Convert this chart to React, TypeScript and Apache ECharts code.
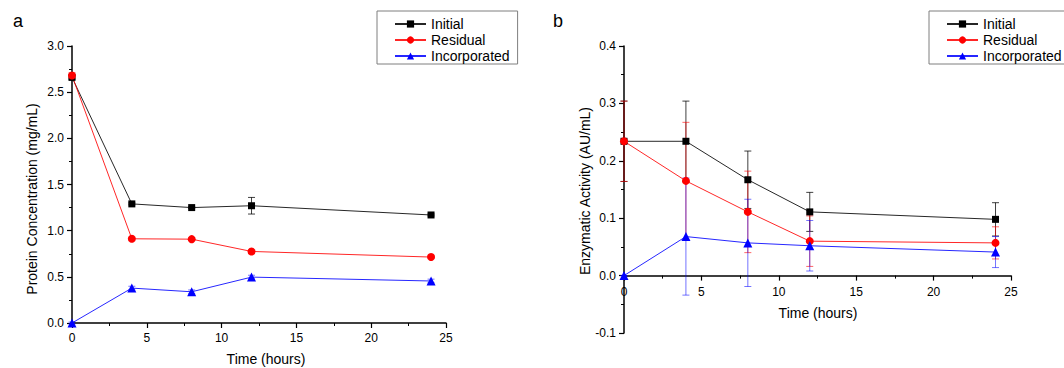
import React, { useEffect, useRef } from 'react';
import * as echarts from 'echarts';

const hours = [0, 4, 8, 12, 24];
const seriesNames = ['Initial', 'Residual', 'Incorporated'];

// Panel a: protein concentration (mg/mL)
const protInitial = [2.66, 1.29, 1.25, 1.27, 1.17];
const protInitialErr = [0.02, 0.01, 0.01, 0.09, 0.01];
const protResidual = [2.68, 0.912, 0.908, 0.775, 0.714];
const protResidualErr = [0.03, 0.01, 0.01, 0.01, 0.01];
const protIncorp = [0, 0.378, 0.338, 0.497, 0.455];
const protIncorpErr = [0.01, 0.02, 0.02, 0.02, 0.02];

// Panel b: enzymatic activity (AU/mL)
const actInitial = [0.234, 0.234, 0.167, 0.111, 0.098];
const actInitialErr = [0.07, 0.07, 0.05, 0.034, 0.029];
const actResidual = [0.234, 0.165, 0.111, 0.06, 0.057];
const actResidualErr = [0.07, 0.102, 0.071, 0.044, 0.028];
const actIncorp = [0, 0.068, 0.057, 0.052, 0.041];
const actIncorpErr = [0, 0.102, 0.076, 0.044, 0.027];

const FONT = '"Liberation Sans", Arial, sans-serif';
const colors = ['#000000', '#ff0000', '#0000ff'];
const errColors = ['rgba(0,0,0,0.75)', 'rgba(255,0,0,0.6)', 'rgba(0,0,255,0.55)'];
const symbols = ['rect', 'circle', 'triangle'];
const symbolSizes = [7, 8, 9];

// Panel b geometry: y range [-0.1, 0.4] over 287 px, x axis drawn at y = 0
const B_TOP = 46;
const B_HEIGHT = 287;
const B_ZERO_OFFSET = -(B_HEIGHT * 0.1) / 0.5;

function lineSeries(idx: number, axis: number, vals: number[]) {
  return {
    type: 'line',
    name: seriesNames[idx],
    xAxisIndex: axis,
    yAxisIndex: axis,
    data: hours.map((h, i) => [h, vals[i]]),
    symbol: symbols[idx],
    symbolSize: symbolSizes[idx],
    showAllSymbol: true,
    itemStyle: { color: colors[idx] },
    lineStyle: { color: colors[idx], width: 1, opacity: 0.85 },
    z: 3,
  };
}

function errSeries(idx: number, axis: number, vals: number[], errs: number[]) {
  const color = errColors[idx];
  return {
    type: 'custom',
    name: 'err-' + seriesNames[idx] + '-' + axis,
    xAxisIndex: axis,
    yAxisIndex: axis,
    silent: true,
    z: 2,
    data: hours.map((h, i) => [h, vals[i] - errs[i], vals[i] + errs[i]]),
    encode: { x: 0, y: [1, 2] },
    renderItem: (params: any, api: any) => {
      const lo = api.coord([api.value(0), api.value(1)]);
      const hi = api.coord([api.value(0), api.value(2)]);
      const w = 3.5;
      const style = { stroke: color, lineWidth: 1, fill: 'none' };
      return {
        type: 'group',
        children: [
          { type: 'line', shape: { x1: lo[0], y1: lo[1], x2: hi[0], y2: hi[1] }, style },
          { type: 'line', shape: { x1: lo[0] - w, y1: lo[1], x2: lo[0] + w, y2: lo[1] }, style },
          { type: 'line', shape: { x1: hi[0] - w, y1: hi[1], x2: hi[0] + w, y2: hi[1] }, style },
        ],
      };
    },
  };
}

const axisLine = { show: true, onZero: false, lineStyle: { color: '#000', width: 1.5 } };
const axisTick = { show: true, inside: false, length: 5, lineStyle: { color: '#000', width: 1.2 } };
const minorTick = { show: true, splitNumber: 2, length: 3, lineStyle: { color: '#000', width: 1 } };
const labelStyle = { color: '#000', fontSize: 12, fontFamily: FONT };

function legend(left: number, padRight: number) {
  return {
    data: seriesNames,
    orient: 'vertical',
    left,
    top: 11,
    itemWidth: 31,
    itemHeight: 9,
    itemGap: 2,
    padding: [6, padRight, 1, 17],
    borderColor: '#7f7f7f',
    borderWidth: 1,
    backgroundColor: '#fff',
    textStyle: { color: '#000', fontSize: 14, fontFamily: FONT },
    selectedMode: false,
  };
}

export default function App() {
  const ref = useRef<HTMLDivElement>(null);
  useEffect(() => {
    if (!ref.current) return;
    const chart = echarts.init(ref.current, null, { renderer: 'svg' });
    const option: any = {
      animation: false,
      backgroundColor: '#fff',
      textStyle: { fontFamily: FONT },
      legend: [legend(377, 8), legend(929, 4)],
      grid: [
        { left: 72, top: 46, width: 374, height: 277 },
        { left: 624, top: B_TOP, width: 387, height: B_HEIGHT },
      ],
      xAxis: [
        {
          type: 'value', gridIndex: 0, min: 0, max: 25, interval: 5,
          axisLine, axisTick, minorTick, splitLine: { show: false },
          axisLabel: { ...labelStyle, margin: 9 },
        },
        {
          type: 'value', gridIndex: 1, min: 0, max: 25, interval: 5,
          position: 'bottom', offset: B_ZERO_OFFSET,
          axisLine, axisTick, minorTick, splitLine: { show: false },
          axisLabel: { ...labelStyle, margin: 10 },
        },
      ],
      yAxis: [
        {
          type: 'value', gridIndex: 0, min: 0, max: 3, interval: 0.5,
          axisLine, axisTick, minorTick, splitLine: { show: false },
          axisLabel: { ...labelStyle, margin: 8, formatter: (v: number) => v.toFixed(1) },
        },
        {
          type: 'value', gridIndex: 1, min: -0.1, max: 0.4, interval: 0.1,
          axisLine, axisTick, minorTick, splitLine: { show: false },
          axisLabel: { ...labelStyle, margin: 8, formatter: (v: number) => v.toFixed(1) },
        },
      ],
      graphic: [
        { type: 'text', x: 18, y: 21, style: { text: 'a', font: `18px ${FONT}`, fill: '#000', align: 'center', verticalAlign: 'middle' } },
        { type: 'text', x: 558, y: 21, style: { text: 'b', font: `18px ${FONT}`, fill: '#000', align: 'center', verticalAlign: 'middle' } },
        { type: 'text', x: 32, y: 199, rotation: Math.PI / 2, style: { text: 'Protein Concentration (mg/mL)', font: `14px ${FONT}`, fill: '#000', align: 'center', verticalAlign: 'middle' } },
        { type: 'text', x: 585, y: 191, rotation: Math.PI / 2, style: { text: 'Enzymatic Activity (AU/mL)', font: `14px ${FONT}`, fill: '#000', align: 'center', verticalAlign: 'middle' } },
        { type: 'text', x: 266, y: 359, style: { text: 'Time (hours)', font: `14px ${FONT}`, fill: '#000', align: 'center', verticalAlign: 'middle' } },
        { type: 'text', x: 818, y: 313, style: { text: 'Time (hours)', font: `14px ${FONT}`, fill: '#000', align: 'center', verticalAlign: 'middle' } },
      ],
      series: [
        errSeries(0, 0, protInitial, protInitialErr),
        errSeries(1, 0, protResidual, protResidualErr),
        errSeries(2, 0, protIncorp, protIncorpErr),
        lineSeries(0, 0, protInitial),
        lineSeries(1, 0, protResidual),
        lineSeries(2, 0, protIncorp),
        errSeries(0, 1, actInitial, actInitialErr),
        errSeries(1, 1, actResidual, actResidualErr),
        errSeries(2, 1, actIncorp, actIncorpErr),
        lineSeries(0, 1, actInitial),
        lineSeries(1, 1, actResidual),
        lineSeries(2, 1, actIncorp),
      ],
    };
    chart.setOption(option);
    return () => chart.dispose();
  }, []);
  return (
    <div
      ref={ref}
      style={{ position: 'fixed', left: 0, top: 0, width: 1064, height: 368, background: '#fff' }}
    />
  );
}
